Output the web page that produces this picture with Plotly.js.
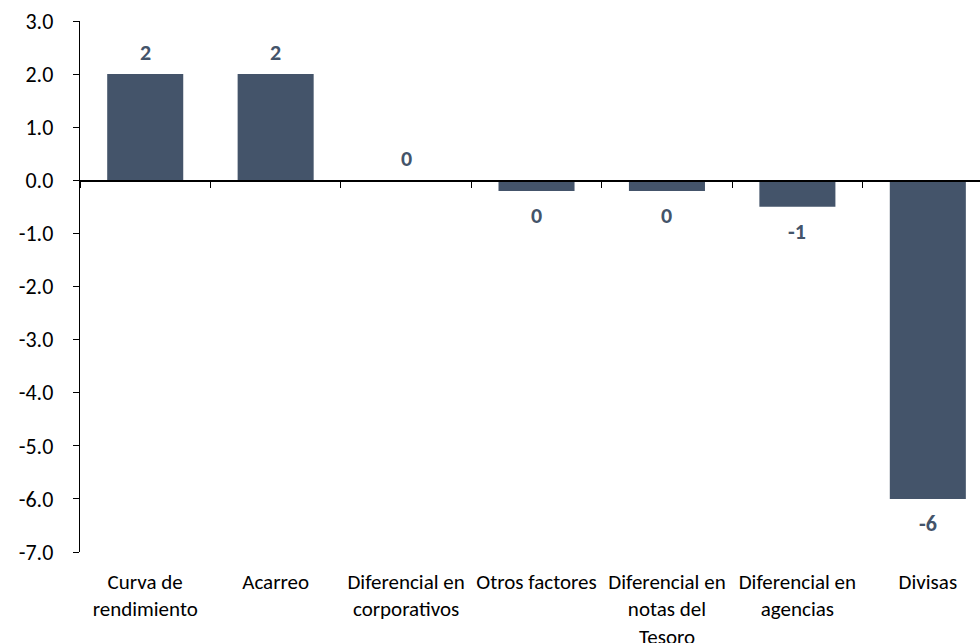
<!DOCTYPE html>
<html>
<head>
<meta charset="utf-8">
<script src="https://cdn.plot.ly/plotly-3.0.1.min.js"></script>
<style>html,body{margin:0;padding:0;background:#fff;overflow:hidden;}#chart{width:980px;height:643px;}</style>
</head>
<body>
<div id="chart"></div>
<script>
var categories = ["Curva de<br>rendimiento", "Acarreo", "Diferencial en<br>corporativos", "Otros factores", "Diferencial en<br>notas del<br>Tesoro", "Diferencial en<br>agencias", "Divisas"];
var values = [2.0, 2.0, 0.0, -0.2, -0.2, -0.5, -6.0];
var yTickVals = [3, 2, 1, 0, -1, -2, -3, -4, -5, -6, -7];

var FONT = "Carlito, Calibri, Lato, sans-serif";
var barColor = "#44546A";

function roundLabel(v) {
  var r = Math.sign(v) * Math.round(Math.abs(v));
  return String(r === 0 ? 0 : r);
}

var traces = [
  {
    type: "bar",
    x: categories,
    y: values,
    xaxis: "x",
    yaxis: "y",
    marker: {color: barColor},
    hoverinfo: "skip",
    showlegend: false
  },
  {
    type: "scatter",
    mode: "none",
    x: categories,
    y: values,
    xaxis: "x2",
    yaxis: "y",
    hoverinfo: "skip",
    showlegend: false
  }
];

var annotations = values.map(function (v, i) {
  var pos = v >= 0;
  return {
    x: categories[i],
    y: v,
    xref: "x",
    yref: "y",
    text: roundLabel(v),
    showarrow: false,
    yshift: pos ? 22 : -25,
    font: {family: FONT, size: 22, color: barColor, weight: "bold"}
  };
});

var layout = {
  width: 980,
  height: 643,
  margin: {l: 80, r: 0, t: 21, b: 91},
  paper_bgcolor: "#fff",
  plot_bgcolor: "#fff",
  bargap: 0.417,
  font: {family: FONT, size: 21, color: "#000"},
  xaxis: {
    type: "category",
    range: [-0.5, 6.4],
    anchor: "free",
    position: 0.7,
    showline: true,
    linecolor: "#000",
    linewidth: 1.3,
    ticks: "outside",
    tickson: "boundaries",
    ticklen: 6,
    tickcolor: "#000",
    showticklabels: false,
    showgrid: false,
    zeroline: false,
    fixedrange: true
  },
  xaxis2: {
    type: "category",
    overlaying: "x",
    matches: "x",
    anchor: "y",
    side: "bottom",
    showline: false,
    ticks: "",
    showgrid: false,
    zeroline: false,
    showticklabels: true,
    ticklabelstandoff: 15,
    tickfont: {family: FONT, size: 21, color: "#000"},
    automargin: false
  },
  yaxis: {
    range: [-7, 3],
    tickvals: yTickVals,
    ticktext: yTickVals.map(function (t) { return t.toFixed(1); }),
    showline: true,
    linecolor: "#000",
    linewidth: 1.3,
    ticks: "outside",
    ticklen: 6,
    tickcolor: "#000",
    showgrid: false,
    zeroline: false,
    ticklabelstandoff: 15,
    tickfont: {family: FONT, size: 22, color: "#000"},
    automargin: false
  },
  annotations: annotations
};

Plotly.newPlot("chart", traces, layout, {displayModeBar: false, staticPlot: true});
</script>
</body>
</html>
